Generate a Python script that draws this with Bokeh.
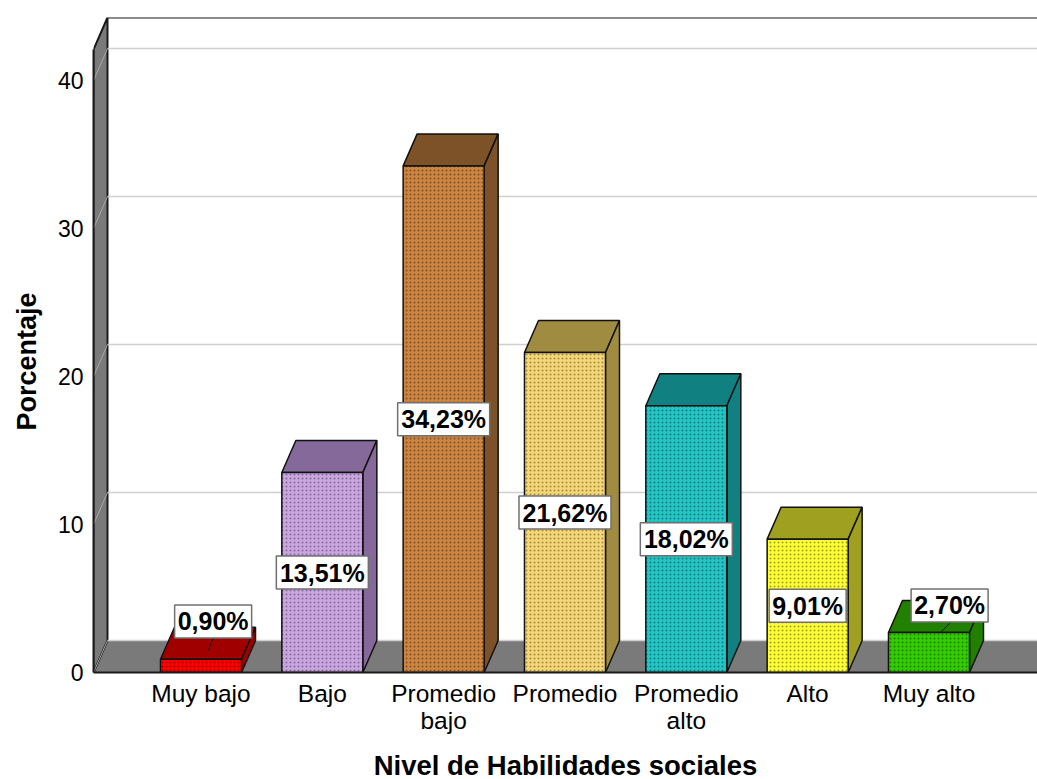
from bokeh.plotting import figure
from bokeh.embed import file_html
from bokeh.resources import INLINE
from bokeh.models import FixedTicker, Range1d, Title

categories = ["Muy bajo", "Bajo", "Promedio\nbajo", "Promedio", "Promedio\nalto", "Alto", "Muy alto"]
values = [0.90, 13.51, 34.23, 21.62, 18.02, 9.01, 2.70]
labels = ["0,90%", "13,51%", "34,23%", "21,62%", "18,02%", "9,01%", "2,70%"]
face_colors = ["#ff0000", "#c9a6e0", "#cc8440", "#f5d778", "#25c4c4", "#ffff33", "#33cc00"]
hatch_colors = ["#a00000", "#85699a", "#7d5228", "#a08c40", "#108080", "#a0a020", "#228000"]
side_colors = ["#a00000", "#85699a", "#7d5228", "#a08c40", "#108080", "#a0a020", "#228000"]
y_ticks = [0, 10, 20, 30, 40]
label_dx = [0.10, 0, 0, 0, 0, 0, 0.17]
label_dy = [3.0, 0, 0, 0, 0, 0, 3.18]

PX_PER_UNIT = 14.8
PX_PER_CAT = 121.33
DX = 14 / PX_PER_CAT
DY = 32 / PX_PER_UNIT
HALF = 40.5 / PX_PER_CAT

WIDTH, HEIGHT = 1037, 779
LEFT, TOP = 93, 17
FRAME_W, FRAME_H = WIDTH - LEFT, 655
x0 = -107.5 / PX_PER_CAT
x1 = x0 + FRAME_W / PX_PER_CAT
y1 = FRAME_H / PX_PER_UNIT
wall_top = y1 - DY

p = figure(width=WIDTH, height=HEIGHT, frame_width=FRAME_W, frame_height=FRAME_H,
           output_backend="svg", toolbar_location=None,
           x_range=Range1d(x0, x1), y_range=Range1d(0, y1),
           min_border_left=LEFT, min_border_right=0, min_border_top=TOP, min_border_bottom=0,
           outline_line_color=None, background_fill_color="white", border_fill_color="white")
p.grid.visible = False

# floor and side wall
p.patch([x0, x0 + DX, x1 + DX, x1], [0, DY, DY, 0], fill_color="#7a7a7a", line_color=None)
p.patch([x0, x0 + DX, x0 + DX, x0], [0, DY, y1, wall_top], fill_color="#7a7a7a", line_color="#1a1a1a", line_width=2)

# gridlines on back wall and continuing on the side wall
for t in y_ticks:
    p.line([x0 + DX, x1], [t + DY, t + DY], line_color="#cfcfcf", line_width=1.5)
    p.line([x0, x0 + DX], [t, t + DY], line_color="#a8a8a8", line_width=1)
p.line([x0 + DX, x1], [y1, y1], line_color="#1a1a1a", line_width=2)

# bars
for i, v in enumerate(values):
    l, r = i - HALF, i + HALF
    p.patch([l, l + DX, r + DX, r], [v, v + DY, v + DY, v], fill_color=side_colors[i], line_color="#111111", line_width=1.5)
    p.patch([r, r + DX, r + DX, r], [0, DY, v + DY, v], fill_color=side_colors[i], line_color="#111111", line_width=1.5)
    p.quad(left=l, right=r, bottom=0, top=v, fill_color=face_colors[i], line_color="#111111", line_width=1.5,
           hatch_pattern="dot", hatch_color=hatch_colors[i], hatch_scale=4, hatch_weight=2, hatch_alpha=1)

# data labels
lx = [i + dx for i, dx in enumerate(label_dx)]
ly = [v / 2 + dy for v, dy in zip(values, label_dy)]
p.line([0.06, 0.10], [1.5, 2.3], line_color="#111111", line_width=1)
p.line([6.095, 6.18], [2.70, 3.4], line_color="#111111", line_width=1)
p.rect(lx, ly, width=[77 if len(s) == 5 else 92 for s in labels], height=33,
       width_units="screen", height_units="screen", fill_color="white", line_color="#707070", line_width=1.5)
p.text(lx, ly, text=labels, text_align="center", text_baseline="middle",
       text_font_size="25px", text_font_style="bold", text_color="black", text_font={"value": "Liberation Sans"})

# axes
p.xaxis.ticker = FixedTicker(ticks=list(range(len(categories))))
p.xaxis.major_label_overrides = {i: c for i, c in enumerate(categories)}
p.xaxis.major_tick_line_color = None
p.xaxis.minor_tick_line_color = None
p.xaxis.axis_line_color = "#1a1a1a"
p.xaxis.axis_line_width = 2
p.xaxis.major_label_standoff = 1
p.xaxis.major_label_text_font = "Liberation Sans"
p.xaxis.major_label_text_font_size = "24.5px"
p.xaxis.major_label_text_line_height = 1.0
p.xaxis.major_label_text_color = "black"
p.xaxis.axis_label = "Nivel de Habilidades sociales"
p.xaxis.axis_label_text_font = "Liberation Sans"
p.xaxis.axis_label_text_font_size = "27.5px"
p.xaxis.axis_label_text_font_style = "bold"
p.xaxis.axis_label_text_color = "black"
p.xaxis.axis_label_standoff = 13

p.yaxis.ticker = FixedTicker(ticks=y_ticks)
p.yaxis.bounds = (0, wall_top)
p.yaxis.major_tick_line_color = None
p.yaxis.minor_tick_line_color = None
p.yaxis.axis_line_color = "#1a1a1a"
p.yaxis.axis_line_width = 2
p.yaxis.major_label_standoff = 4
p.yaxis.major_label_text_font = "Liberation Sans"
p.yaxis.major_label_text_font_size = "23px"
p.yaxis.major_label_text_color = "black"

p.add_layout(Title(text="Porcentaje", align="left", offset=242, standoff=22, vertical_align="top",
                   text_font="Liberation Sans", text_font_size="27px", text_font_style="bold",
                   text_color="black"), "left")

open("out.html", "w").write(file_html(p, INLINE))
